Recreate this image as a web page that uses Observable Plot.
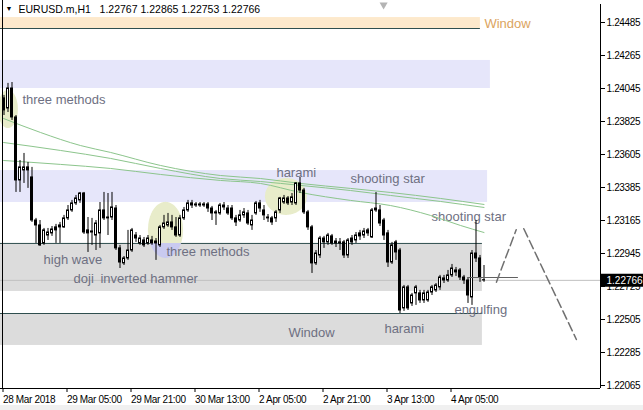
<!DOCTYPE html>
<html><head><meta charset="utf-8">
<script src="https://cdn.jsdelivr.net/npm/d3@7"></script>
<script src="https://cdn.jsdelivr.net/npm/@observablehq/plot@0.6"></script>
<style>
html,body{margin:0;padding:0;background:#f0f0f0;width:643px;height:410px;overflow:hidden}
#chart svg{display:block;background:#fff}
g[aria-label="y-axis tick label"] text, g[aria-label="x-axis tick label"] text, g[aria-label="header"] text, g[aria-label="price box label"] text {letter-spacing:-0.35px}
</style></head><body><div id="chart"></div>
<script>
// ---- data (bar index = H1 bar, 0 = 28 Mar 2018 13:00) ----
const candleOpen = [1.23979,1.23912,1.24045,1.23852,1.23432,1.23499,1.23519,1.23452,1.23165,1.23132,
1.23012,1.23065,1.23079,1.23119,1.23132,1.23119,1.23179,1.23232,1.23279,1.23299,
1.23345,1.23099,1.23092,1.23065,1.23079,1.23232,1.23179,1.23185,1.23245,1.22979,
1.22879,1.22912,1.22965,1.23065,1.23012,1.23032,1.23012,1.23032,1.23025,1.22999,
1.23119,1.23132,1.23152,1.23119,1.23065,1.23179,1.23232,1.23279,1.23265,1.23272,
1.23265,1.23272,1.23245,1.23219,1.23212,1.23265,1.23245,1.23245,1.23179,1.23165,
1.23199,1.23212,1.23132,1.23212,1.23279,1.23232,1.23185,1.23179,1.23179,1.23232,
1.23285,1.23312,1.23285,1.23279,1.23412,1.23365,1.23219,1.23119,1.22879,1.22932,
1.23045,1.23019,1.23059,1.23025,1.23019,1.23019,1.22932,1.23045,1.23032,1.23079,
1.23065,1.23099,1.23052,1.23245,1.23232,1.23165,1.23079,1.22885,1.23019,1.22965,
1.22579,1.22719,1.22612,1.22679,1.22679,1.22632,1.22632,1.22685,1.22699,1.22719,
1.22765,1.22765,1.22799,1.22832,1.22832,1.22785,1.22765,1.22652,1.22945,1.22912,
1.22767];
const candleHigh = [1.23999,1.24079,1.24085,1.23865,1.23565,1.23612,1.23552,1.23519,1.23179,1.23165,
1.23112,1.23112,1.23125,1.23139,1.23152,1.23199,1.23265,1.23299,1.23332,1.23352,
1.23352,1.23185,1.23179,1.23165,1.23285,1.23352,1.23345,1.23352,1.23265,1.22999,
1.22925,1.23099,1.23112,1.23085,1.23065,1.23052,1.23065,1.23059,1.23045,1.23132,
1.23199,1.23212,1.23199,1.23185,1.23199,1.23252,1.23299,1.23299,1.23285,1.23285,
1.23285,1.23285,1.23259,1.23232,1.23279,1.23285,1.23265,1.23265,1.23199,1.23232,
1.23245,1.23232,1.23199,1.23292,1.23299,1.23265,1.23205,1.23192,1.23232,1.23319,
1.23332,1.23325,1.23345,1.23418,1.23452,1.23379,1.23232,1.23132,1.22965,1.23059,
1.23059,1.23079,1.23072,1.23045,1.23045,1.23032,1.23045,1.23065,1.23085,1.23099,
1.23112,1.23112,1.23245,1.23352,1.23265,1.23179,1.23099,1.23019,1.23032,1.22979,
1.22732,1.22732,1.22679,1.22732,1.22699,1.22699,1.22699,1.22732,1.22745,1.22799,
1.22799,1.22832,1.22872,1.22852,1.22845,1.22799,1.22779,1.22965,1.23165,1.22932,
1.22865];
const candleLow = [1.23865,1.23885,1.23832,1.23352,1.23352,1.23412,1.23379,1.23152,1.23012,1.22992,
1.22999,1.23032,1.23059,1.23012,1.23012,1.23112,1.23165,1.23219,1.23265,1.23279,
1.23072,1.22952,1.22999,1.22965,1.22979,1.23165,1.23065,1.23165,1.22965,1.22845,
1.22865,1.22899,1.22952,1.23019,1.22999,1.22985,1.22999,1.22999,1.22899,1.22985,
1.23105,1.23119,1.23099,1.23052,1.23052,1.23165,1.23219,1.23245,1.23252,1.23252,
1.23252,1.23219,1.23165,1.23132,1.23199,1.23232,1.23199,1.23165,1.23125,1.23152,
1.23179,1.23132,1.23099,1.23199,1.23219,1.23165,1.23152,1.23132,1.23152,1.23212,
1.23272,1.23265,1.23265,1.23265,1.23345,1.23205,1.23099,1.22812,1.22865,1.22912,
1.22979,1.22999,1.22999,1.22985,1.22965,1.22912,1.22912,1.22999,1.23012,1.23032,
1.23045,1.23059,1.23045,1.23219,1.23125,1.23032,1.22852,1.22872,1.22899,1.22545,
1.22559,1.22565,1.22592,1.22599,1.22612,1.22612,1.22619,1.22665,1.22685,1.22699,
1.22745,1.22752,1.22785,1.22792,1.22765,1.22739,1.22612,1.22599,1.22885,1.22752,
1.22753];
const candleClose = [1.23899,1.24045,1.23852,1.23432,1.23519,1.23519,1.23499,1.23165,1.23132,1.22999,
1.23099,1.23085,1.23105,1.23099,1.23119,1.23179,1.23232,1.23279,1.23312,1.23345,
1.23085,1.23079,1.23085,1.23145,1.23232,1.23179,1.23185,1.23252,1.22979,1.22885,
1.22912,1.22965,1.23099,1.23045,1.23045,1.22999,1.23045,1.23012,1.23012,1.23119,
1.23145,1.23152,1.23119,1.23065,1.23179,1.23232,1.23279,1.23265,1.23272,1.23265,
1.23272,1.23245,1.23212,1.23212,1.23265,1.23252,1.23212,1.23179,1.23152,1.23199,
1.23219,1.23145,1.23165,1.23279,1.23245,1.23199,1.23179,1.23152,1.23219,1.23312,
1.23312,1.23279,1.23319,1.23412,1.23365,1.23219,1.23119,1.22879,1.22945,1.23045,
1.23019,1.23065,1.23012,1.23012,1.23012,1.22932,1.23032,1.23019,1.23065,1.23059,
1.23092,1.23079,1.23232,1.23232,1.23145,1.23065,1.22885,1.22999,1.22952,1.22565,
1.22719,1.22579,1.22665,1.22719,1.22632,1.22679,1.22685,1.22719,1.22732,1.22785,
1.22779,1.22799,1.22845,1.22819,1.22785,1.22765,1.22665,1.22945,1.22912,1.22785,
1.22766];

const timeTickBars = [0,16,32,48,64,80,96,112];
const timeTickLabels = ["28 Mar 2018","29 Mar 05:00","29 Mar 21:00","30 Mar 13:00","2 Apr 05:00","2 Apr 21:00","3 Apr 13:00","4 Apr 05:00"];
const priceTicks = [1.24485,1.24265,1.24045,1.23825,1.23605,1.23385,1.23165,1.22945,1.22725,1.22505,1.22285,1.22065];

// moving averages (bar, value)
const maBars1 = [-0.1,9.1,19.1,26.6,39.1,54.1,64.1,74.1,86.6,96.6,109.1,120];
const maVals1 = [1.23845,1.23752,1.23665,1.23619,1.23532,1.23465,1.23445,1.23412,1.23379,1.23352,1.23312,1.23272];
const maBars2 = [-0.1,14.1,26.6,39.1,54.1,64.1,74.1,86.6,96.6,109.1,120];
const maVals2 = [1.23685,1.23632,1.23579,1.23512,1.23445,1.23425,1.23399,1.23365,1.23332,1.23292,1.23252];
const maBars3 = [-0.1,14.1,26.6,39.1,54.1,64.1,74.1,86.6,96.6,106.6,114.1,120];
const maVals3 = [1.23565,1.23539,1.23512,1.23472,1.23432,1.23412,1.23352,1.23299,1.23265,1.23199,1.23132,1.23085];

// zones (rectangles): low / high price, last bar
const zoneKind = ["window","resistance","resistance","support","window2"];
const zoneLow  = [1.24445,1.24045,1.23285,1.22692,1.22332];
const zoneHigh = [1.24518,1.24232,1.23498,1.23012,1.22545];
const zoneEnd  = [119.1,121.6,120.9,119.6,119.6];
const zoneEdge = [1.24445,null,null,1.23012,1.22545];

// pattern highlight ellipses: centre bar, centre price, radius bars, radius price
const ellBar = [1.1,40.5,70.6];
const ellPrice = [1.23905,1.23099,1.23322];
const ellRBar = [2.5,4.4,5.25];
const ellRPrice = [0.00127,0.00187,0.00123];

// annotation labels
const labelText = ["three methods","high wave","doji","inverted hammer","three methods","harami","shooting star","shooting star","engulfing","harami","Window"];
const labelBar = [4.6,9.9,17.4,24.1,40.6,68.1,86.6,106.9,112.6,95.1,71.1];
const labelPrice = [1.23972,1.22905,1.22779,1.22779,1.22959,1.23485,1.23445,1.23192,1.22572,1.22445,1.22419];
const windowLabel = {text:"Window", bar:120.1, price:1.24478};

// projection zigzag (bar, price)
const projBars = [123.1,128.05,129.95,143.1];
const projPrices = [1.22754,1.23103,1.23110,1.22372];
const markLine = {bar1:115.9, bar2:128.6, price:1.22785};
const shiftMarker = {bar:94.9, price:1.24602};

const symbolName = "EURUSD.m,H1";
const lastPrice = candleClose[candleClose.length-1];

// ---- build tables ----
const candles = candleOpen.map((o,i)=>({i,o,h:candleHigh[i],l:candleLow[i],c:candleClose[i]}));
const zones = zoneKind.map((k,j)=>({k,lo:zoneLow[j],hi:zoneHigh[j],end:zoneEnd[j],edge:zoneEdge[j]}));
const ma = [[maBars1,maVals1],[maBars2,maVals2],[maBars3,maVals3]].flatMap(([b,v],s)=>b.map((x,j)=>({s,x,y:v[j]})));
const labels = labelText.map((t,j)=>({t,x:labelBar[j],y:labelPrice[j]}));
const supportTop = zoneHigh[3];

// ellipse outlines as areas
const ellYellow=[], ellBlue=[];
ellBar.forEach((cx,e)=>{
  const cy=ellPrice[e], rx=ellRBar[e], ry=ellRPrice[e];
  for(let k=0;k<=80;k++){
    const u=-1+2*k/80, s=Math.sqrt(Math.max(0,1-u*u));
    const x=cx+u*rx, lo=cy-ry*s, hi=cy+ry*s;
    if(e===1){
      ellYellow.push({e,x,y1:Math.max(lo,supportTop),y2:Math.max(hi,supportTop)});
      ellBlue.push({e,x,y1:Math.min(lo,supportTop),y2:Math.min(hi,supportTop)});
    } else ellYellow.push({e,x,y1:lo,y2:hi});
  }
});

const zoneFill = {window:"#fde9cc",resistance:"#e6e6fa",support:"#dcdcdc",window2:"#dcdcdc"};
const uiFont = "'Liberation Sans',Arial,sans-serif";
const txtColor = "#6e7082";
const xMax = 149.125;

const chart = Plot.plot({
  width:643, height:405,
  marginTop:0, marginLeft:0, marginRight:43, marginBottom:17,
  style:{fontFamily:uiFont, fontSize:"10px", color:"#000", background:"#fff"},
  x:{type:"linear", domain:[-0.875,xMax], axis:null},
  y:{domain:[1.22045,1.246317], axis:null},
  marks:[
    Plot.rect(zones,{x1:-1,x2:"end",y1:"lo",y2:"hi",fill:d=>zoneFill[d.k],clip:true}),
    Plot.ruleY(zones.filter(d=>d.edge!=null),{y:"edge",x1:-1,x2:"end",stroke:"#2f4f4f",clip:true}),
    Plot.areaY(ellYellow,{x:"x",y1:"y1",y2:"y2",z:"e",fill:"#e8ecca",clip:true}),
    Plot.areaY(ellBlue,{x:"x",y1:"y1",y2:"y2",z:"e",fill:"#c9caf0",clip:true}),
    Plot.ruleY([lastPrice],{stroke:"#c0c0c0"}),
    Plot.text(labels,{x:"x",y:"y",text:"t",textAnchor:"start",fill:txtColor,fontSize:13}),
    Plot.text([windowLabel],{x:"bar",y:"price",text:"text",textAnchor:"start",fill:"#dba45e",fontSize:13}),
    Plot.line(ma,{x:"x",y:"y",z:"s",stroke:"#8cc58c",strokeWidth:1,curve:"monotone-x"}),
    Plot.ruleX(candles,{x:"i",y1:"l",y2:"h",stroke:"#000",clip:true}),
    Plot.rect(candles,{x1:d=>d.i-0.25,x2:d=>d.i+0.25,y1:"o",y2:"c",fill:d=>d.c>=d.o?"#fff":"#000",stroke:"#000",clip:true}),
    Plot.ruleY([markLine],{y:"price",x1:"bar1",x2:"bar2",stroke:"#606060"}),
    Plot.line(projBars.slice(0,2).map((b,j)=>({x:b,y:projPrices[j]})),{x:"x",y:"y",stroke:"#707070",strokeDasharray:"9,4"}),
    Plot.line(projBars.slice(2).map((b,j)=>({x:b,y:projPrices[j+2]})),{x:"x",y:"y",stroke:"#707070",strokeDasharray:"9,4"}),
    Plot.dot([shiftMarker],{x:"bar",y:"price",symbol:"triangle",rotate:180,r:3,fill:"#b4b4b4",stroke:null}),
    // frame
    Plot.ruleX([-0.375],{stroke:"#000"}),
    Plot.ruleX([xMax],{y1:1.22045,y2:1.24605,stroke:"#000"}),
    Plot.ruleY([1.22045],{stroke:"#000"}),
    Plot.axisY(priceTicks,{anchor:"right",tickSize:4,tickPadding:2,tickFormat:d=>d.toFixed(5),fontSize:10,fill:"#000",stroke:"#000"}),
    Plot.axisX(timeTickBars,{anchor:"bottom",tickSize:4,tickPadding:3,tickFormat:d=>timeTickLabels[timeTickBars.indexOf(d)],textAnchor:"start",dx:-1,fontSize:10,fill:"#000",stroke:"#000"}),
    Plot.ruleY([lastPrice],{x1:149.35,x2:160,stroke:"#000",strokeWidth:13}),
    Plot.text([lastPrice],{y:d=>d,frameAnchor:"right",dx:6,textAnchor:"start",text:d=>d.toFixed(5),fill:"#fff",fontSize:10,ariaLabel:"price box label"}),
    Plot.text([symbolName+"\u00a0\u00a0 "+[candleOpen.at(-1),candleHigh.at(-1),candleLow.at(-1),candleClose.at(-1)].map(v=>v.toFixed(5)).join(" ")],{frameAnchor:"top-left",dx:18,dy:5,lineAnchor:"top",textAnchor:"start",fill:"#000",fontSize:10.5,ariaLabel:"header"}),
    Plot.text(["▼"],{frameAnchor:"top-left",dx:5,dy:6,lineAnchor:"top",textAnchor:"start",fill:"#000",fontSize:7})
  ]
});
document.getElementById("chart").append(chart);
</script></body></html>
